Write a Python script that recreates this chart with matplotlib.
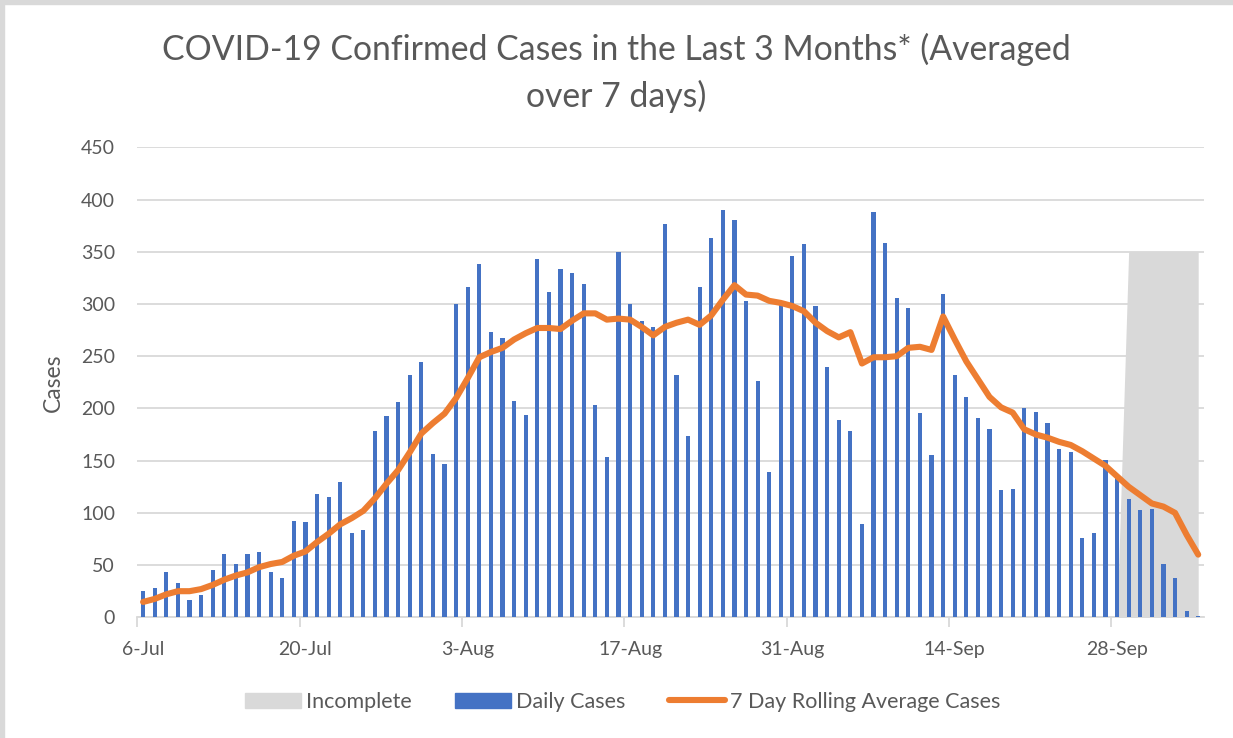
import numpy as np
import pandas as pd
import matplotlib
matplotlib.use('Agg')
import matplotlib.pyplot as plt
from matplotlib.patches import Patch, Rectangle
from matplotlib.lines import Line2D

plt.rcParams['font.family'] = ['Lato', 'DejaVu Sans']

# ==== data ====
start_date = '2020-07-06'
tick_labels = ['6-Jul', '20-Jul', '3-Aug', '17-Aug', '31-Aug', '14-Sep', '28-Sep']

daily_cases = [25, 28, 43, 33, 17, 21, 45, 61, 51, 61, 63, 43, 38, 92, 91, 118,
               115, 130, 81, 84, 178, 193, 206, 232, 244, 156, 147, 300, 316, 338,
               273, 267, 207, 194, 343, 311, 333, 330, 319, 203, 153, 350, 300, 284,
               278, 377, 232, 174, 316, 363, 390, 380, 303, 226, 139, 300, 346, 357,
               298, 240, 189, 178, 89, 388, 358, 306, 296, 196, 155, 310, 232, 211,
               191, 180, 122, 123, 200, 197, 186, 161, 158, 76, 81, 151, 135, 113,
               103, 104, 51, 38, 6, 1]

rolling_avg = [14.7, 17.6, 22, 25, 25, 27, 31, 36, 40, 43, 48, 51, 53, 59, 63, 72,
               80, 89, 95, 102, 114, 128, 141, 158, 176, 186, 195, 210, 229, 249,
               254, 258, 266, 272, 277, 277, 276, 284, 291, 291, 285, 286, 285, 278,
               270, 278, 282, 285, 280, 289, 304, 318, 309, 308, 303, 301, 298, 293,
               282, 274, 268, 273, 243, 249, 249, 250, 258, 259, 256, 288, 266, 245,
               228, 211, 201, 196, 180, 175, 172, 168, 165, 159, 152, 145, 135, 125,
               117, 109, 106, 100, 79, 60]

# last week of data is still incomplete
incomplete = [0] * 85 + [350] * 7

dates = pd.date_range(start_date, periods=len(daily_cases), freq='D')
x = np.arange(len(dates))

txt = '#595959'
grid = '#D9D9D9'

fig = plt.figure(figsize=(12.33, 7.38), dpi=100)
# grey frame at top and left edge
fig.patches.append(Rectangle((0, 1 - 4 / 738), 1, 4 / 738, transform=fig.transFigure,
                             color=grid, zorder=0))
fig.patches.append(Rectangle((0, 0), 4 / 1233, 1, transform=fig.transFigure,
                             color=grid, zorder=0))

ax = fig.add_axes([137.3 / 1233, 1 - 617.3 / 738, (1204 - 137.3) / 1233, 470 / 738])

ax.fill_between(x, incomplete, color=grid, linewidth=0, zorder=2)
ax.bar(x, daily_cases, width=0.36, color='#4472C4', zorder=3)
ax.plot(x, rolling_avg, color='#ED7D31', lw=4.4, solid_joinstyle='round',
        solid_capstyle='round', zorder=4)

ax.set_xlim(-0.5, len(x) - 0.5)
ax.set_ylim(0, 450)
ax.set_yticks(np.arange(0, 451, 50))
ax.yaxis.grid(True, color=grid, lw=1.3, zorder=0)
ax.set_axisbelow(True)

# labels sit on the category, tick marks on the category boundaries
ax.set_xticks(x[::14])
ax.set_xticklabels(tick_labels)
ax.set_xticks(np.arange(-0.5, len(x), 14), minor=True)
ax.tick_params(axis='x', which='major', length=0, pad=17, labelsize=14, labelcolor=txt)
ax.tick_params(axis='x', which='minor', length=7, width=1.3, color=grid)
ax.tick_params(axis='y', length=0, pad=16, labelsize=14, labelcolor=txt)

for s in ['top', 'right', 'left']:
    ax.spines[s].set_visible(False)
ax.spines['bottom'].set_color(grid)
ax.spines['bottom'].set_linewidth(1.3)

ax.set_ylabel('Cases', fontsize=16.5, color=txt, labelpad=12)

fig.text(0.5, 1 - 49 / 738, 'COVID-19 Confirmed Cases in the Last 3 Months* (Averaged',
         ha='center', va='center', fontsize=24.3, color=txt)
fig.text(0.5, 1 - 96 / 738, 'over 7 days)',
         ha='center', va='center', fontsize=24.3, color=txt)

handles = [Patch(color=grid, label='Incomplete'),
           Patch(color='#4472C4', label='Daily Cases'),
           Line2D([0], [0], color='#ED7D31', lw=4.4, solid_capstyle='round',
                  label='7 Day Rolling Average Cases')]
fig.legend(handles=handles, loc='center', bbox_to_anchor=(0.505, 1 - 702 / 738), ncol=3,
           frameon=False, fontsize=15.5, labelcolor=txt, handlelength=2.6,
           handleheight=0.75, handletextpad=0.25, columnspacing=2.0)

fig.savefig('out.png', dpi=100)
